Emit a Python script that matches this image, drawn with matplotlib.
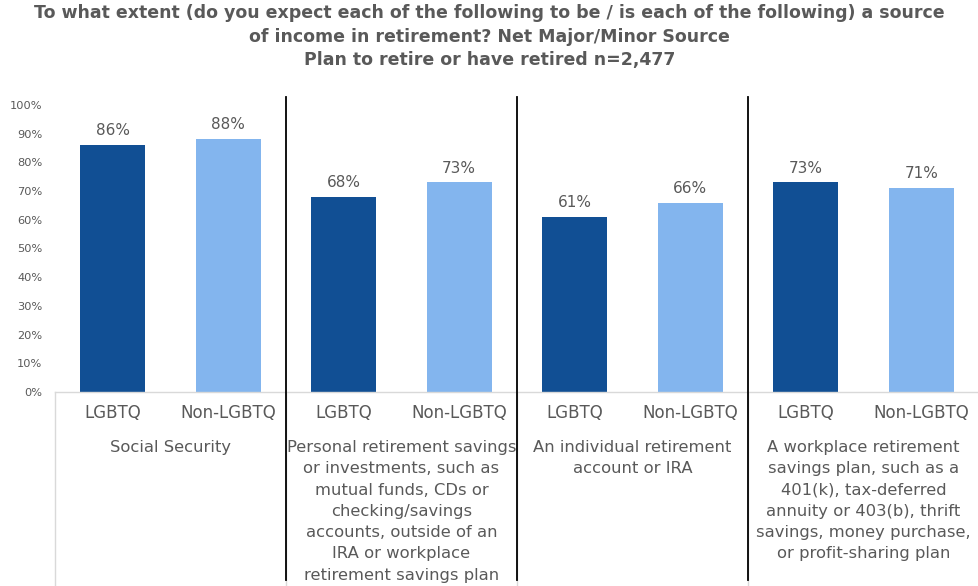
import matplotlib.pyplot as plt
from matplotlib.lines import Line2D

groups = ["Social Security",
          "Personal retirement savings\nor investments, such as\nmutual funds, CDs or\nchecking/savings\naccounts, outside of an\nIRA or workplace\nretirement savings plan",
          "An individual retirement\naccount or IRA",
          "A workplace retirement\nsavings plan, such as a\n401(k), tax-deferred\nannuity or 403(b), thrift\nsavings, money purchase,\nor profit-sharing plan"]
series = ["LGBTQ", "Non-LGBTQ"]
values = [86, 88, 68, 73, 61, 66, 73, 71]
yticks = list(range(0, 101, 10))

title = ("To what extent (do you expect each of the following to be / is each of the following) a source\n"
         "of income in retirement? Net Major/Minor Source\n"
         "Plan to retire or have retired n=2,477")

txt = '#595959'
cols = ['#114F94', '#83B5EE']

fig = plt.figure(figsize=(9.79, 5.86), dpi=100)
ax = fig.add_axes([55/979, 194/586, 924/979, 287/586])

xs = [i + 0.5 for i in range(len(values))]
colors = [cols[i % 2] for i in range(len(values))]
bars = ax.bar(xs, values, width=0.56, color=colors)
for x, v in zip(xs, values):
    ax.annotate(f"{v}%", (x, v), xytext=(0, 5), textcoords='offset points',
                ha='center', va='bottom', fontsize=11, color=txt)

ax.set_xlim(0, 8)
ax.set_ylim(0, 100)
ax.set_yticks(yticks)
ax.set_yticklabels([f"{t}%" for t in yticks], fontsize=8.2, color=txt)
ax.set_xticks([])
ax.tick_params(axis='y', length=0, pad=9)
for s in ax.spines.values():
    s.set_visible(False)

tr = ax.get_xaxis_transform()
# category labels
for i, x in enumerate(xs):
    ax.text(x, -0.073, series[i % 2], transform=tr, ha='center', va='center',
            fontsize=12, color=txt)
for g, name in enumerate(groups):
    ax.text(2 * g + 1, -0.168, name, transform=tr, ha='center', va='top',
            fontsize=11.8, color=txt, linespacing=1.52)

# grey frame of axis
ax.add_line(Line2D([0, 8], [0, 0], transform=tr, color='#D9D9D9', lw=1, clip_on=False))
for x in [0, 2, 4, 6, 8]:
    ax.add_line(Line2D([x, x], [0, -0.68], transform=tr, color='#D9D9D9', lw=1, clip_on=False))
# black separators
for x in [2, 4, 6]:
    ax.add_line(Line2D([x, x], [1.028, -0.655], transform=tr, color='black', lw=1.3, clip_on=False))

fig.text(0.5, 0.993, title, ha='center', va='top', fontsize=12.5, fontweight='bold',
         color=txt, linespacing=1.4)

fig.savefig('out.png', dpi=100)
